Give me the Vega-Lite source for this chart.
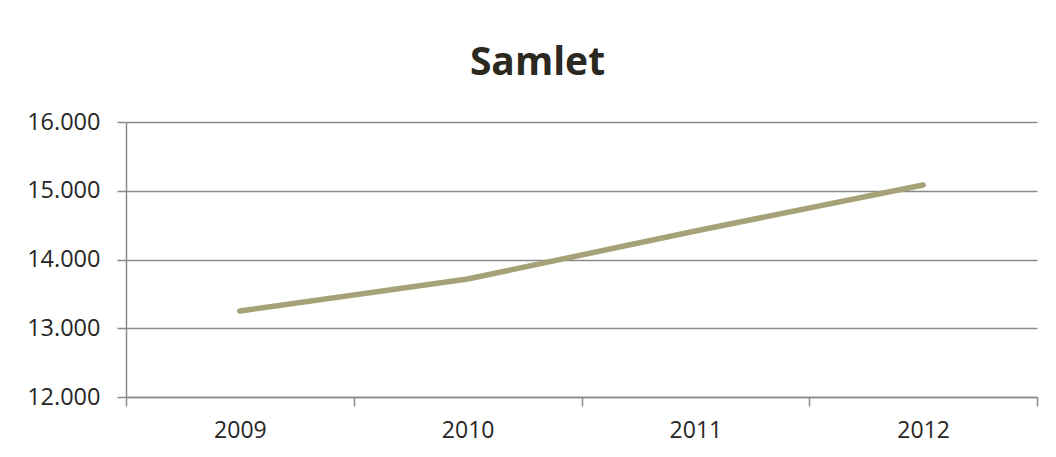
{
  "$schema": "https://vega.github.io/schema/vega-lite/v6.json",
  "width": 911,
  "height": 275,
  "autosize": "none",
  "padding": {"left": 126, "top": 122, "right": 19, "bottom": 60},
  "background": "white",
  "title": {
    "text": "Samlet",
    "font": "Open Sans",
    "fontSize": 39,
    "fontWeight": "bold",
    "color": "#2b2920",
    "anchor": "middle",
    "dx": -44,
    "offset": 27
  },
  "data": {
    "values": [
      {"year": "2009", "value": 13251},
      {"year": "2010", "value": 13716},
      {"year": "2011", "value": 14415},
      {"year": "2012", "value": 15084}
    ]
  },
  "mark": {"type": "line", "color": "#a6a277", "strokeWidth": 5.5, "strokeCap": "round", "strokeJoin": "round"},
  "encoding": {
    "x": {
      "field": "year",
      "type": "ordinal",
      "scale": {"paddingInner": 0, "paddingOuter": 0},
      "axis": {
        "title": null,
        "labelAngle": 0,
        "tickBand": "extent",
        "tickSize": 9,
        "tickWidth": 1.5,
        "tickColor": "#8a8a8a",
        "domainColor": "#8a8a8a",
        "domainWidth": 1.5,
        "labelFont": "Open Sans",
        "labelFontSize": 23,
        "labelColor": "#262626",
        "labelPadding": 13,
        "grid": false
      }
    },
    "y": {
      "field": "value",
      "type": "quantitative",
      "scale": {"domain": [12000, 16000], "nice": false, "zero": false},
      "axis": {
        "title": null,
        "values": [12000, 13000, 14000, 15000, 16000],
        "labelExpr": "replace(format(datum.value, ','), ',', '.')",
        "tickSize": 9,
        "tickWidth": 1.5,
        "tickColor": "#8a8a8a",
        "domainColor": "#8a8a8a",
        "domainWidth": 1.5,
        "grid": true,
        "gridColor": "#8a8a8a",
        "gridWidth": 1.5,
        "gridOpacity": 1,
        "labelFont": "Open Sans",
        "labelFontSize": 23.5,
        "labelColor": "#262626",
        "labelPadding": 17
      }
    }
  },
  "config": {
    "view": {"stroke": null}
  }
}
